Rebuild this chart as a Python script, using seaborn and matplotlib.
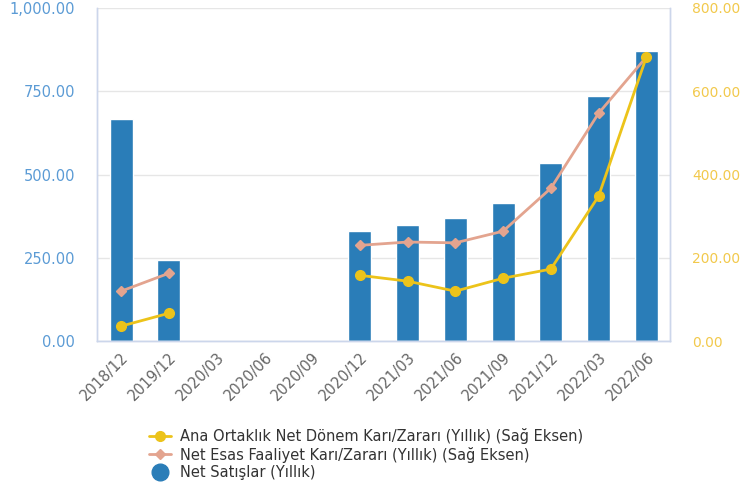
import numpy as np
import pandas as pd
import matplotlib
matplotlib.use("Agg")
import matplotlib.pyplot as plt
import seaborn as sns
from matplotlib.lines import Line2D
from matplotlib.ticker import FuncFormatter

sns.set_style("white")
plt.rcParams['font.family'] = ['DejaVu Sans']

# data
periods = ["2018/12", "2019/12", "2020/03", "2020/06", "2020/09", "2020/12",
           "2021/03", "2021/06", "2021/09", "2021/12", "2022/03", "2022/06"]
net_sales = [667, 243, np.nan, np.nan, np.nan, 330, 348, 369, 414, 535, 736, 871]
net_profit = [36, 67, np.nan, np.nan, np.nan, 158, 144, 120, 151, 173, 348, 682]
core_profit = [120, 163, np.nan, np.nan, np.nan, 230, 238, 236, 264, 367, 547, 682]

label_profit = "Ana Ortaklık Net Dönem Karı/Zararı (Yıllık) (Sağ Eksen)"
label_core = "Net Esas Faaliyet Karı/Zararı (Yıllık) (Sağ Eksen)"
label_sales = "Net Satışlar (Yıllık)"

bar_color = "#2a7db8"
yellow = "#ecc31a"
pink = "#e3a48f"
spine_color = "#ccd6eb"

df = pd.DataFrame({"period": periods, "sales": net_sales})

fig = plt.figure(figsize=(7.48, 4.93), dpi=100)
ax = fig.add_axes([0.13, 0.308, 0.766, 0.676])

sns.barplot(data=df, x="period", y="sales", order=periods, color=bar_color,
            width=0.48, saturation=1, ax=ax)
ax.set_xlim(-0.5, len(periods) - 0.5)
ax.set_ylim(0, 1000)
ax.set_yticks([0, 250, 500, 750, 1000])
ax.yaxis.set_major_formatter(FuncFormatter(lambda v, p: f"{v:,.2f}"))
ax.grid(axis="y", color="#e6e6e6", linewidth=1)
ax.set_axisbelow(True)
ax.set_xlabel("")
ax.set_ylabel("")
ax.tick_params(axis="y", colors="#5b9bd5", labelsize=10.5, length=0, pad=16)
ax.tick_params(axis="x", colors="#666666", labelsize=10.5, length=0, pad=6)
plt.setp(ax.get_xticklabels(), rotation=45, ha="right", rotation_mode="anchor")

ax2 = ax.twinx()
x = np.arange(len(periods))
ax2.plot(x, core_profit, color=pink, linewidth=2, marker="D", markersize=5)
ax2.plot(x, net_profit, color=yellow, linewidth=2, marker="o", markersize=7)
ax2.set_ylim(0, 800)
ax2.set_yticks([0, 200, 400, 600, 800])
ax2.yaxis.set_major_formatter(FuncFormatter(lambda v, p: f"{v:,.2f}"))
ax2.tick_params(axis="y", colors="#f2c94c", labelsize=10, length=0, pad=16)

for a in (ax, ax2):
    a.spines["top"].set_visible(False)
    for s in ("left", "right", "bottom"):
        a.spines[s].set_color(spine_color)
        a.spines[s].set_linewidth(1)

handles = [
    Line2D([], [], color=yellow, linewidth=2, marker="o", markersize=7),
    Line2D([], [], color=pink, linewidth=2, marker="D", markersize=5),
    Line2D([], [], color=bar_color, linestyle="none", marker="o", markersize=12),
]
fig.legend(handles, [label_profit, label_core, label_sales],
           loc="upper left", bbox_to_anchor=(0.19, 0.146), frameon=False,
           fontsize=10.5, labelcolor="#333333", handlelength=1.5,
           handletextpad=0.6, labelspacing=0.15, borderpad=0)

fig.savefig("out.png", dpi=100, facecolor="white")
